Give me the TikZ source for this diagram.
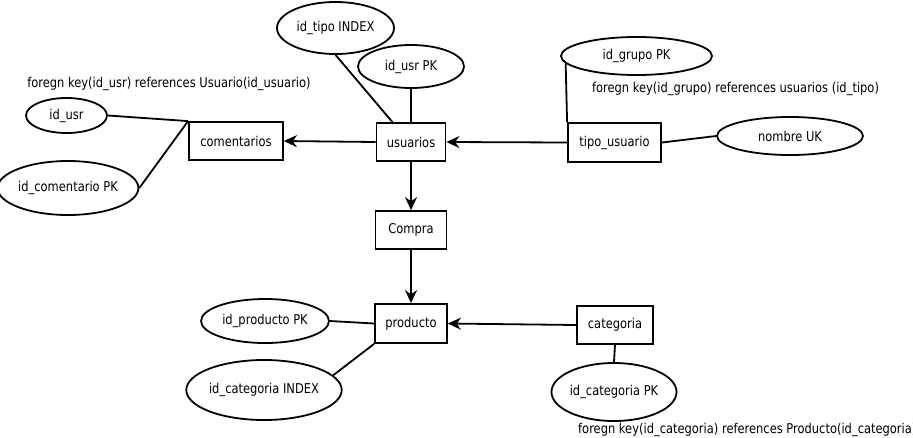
\documentclass[tikz,border=0pt]{standalone}
\usepackage{fontspec}
\setmainfont{DejaVu Sans}[FakeStretch=0.85]
\usetikzlibrary{arrows.meta,shapes.geometric}
\tikzset{
  tabla/.style={draw,line width=1.8pt,minimum height=38pt,inner sep=0pt,font=\fontsize{13.5}{15}\selectfont},
  atributo/.style={draw,ellipse,line width=1.8pt,inner sep=0pt,font=\fontsize{13.5}{15}\selectfont},
  nota/.style={font=\fontsize{13.5}{15}\selectfont,inner sep=0pt},
  liga/.style={line width=1.8pt},
  flecha/.style={line width=1.8pt,-{Stealth[length=13pt,width=12pt]}}
}

\begin{document}
\begin{tikzpicture}[x=1pt,y=-1pt]
      \useasboundingbox (0,0) rectangle (913,437);
      % tablas
      \node[tabla,minimum width=94pt] (comentarios) at (236,141) {comentarios};
      \node[tabla,minimum width=69pt] (usuarios) at (411,142) {usuarios};
      \node[tabla,minimum width=93pt,minimum height=39pt] (tipo) at (614.5,142.5) {tipo\_usuario};
      \node[tabla,minimum width=71pt] (compra) at (411,230) {Compra};
      \node[tabla,minimum width=72pt,minimum height=39pt] (producto) at (411,323.5) {producto};
      \node[tabla,minimum width=76pt] (categoria) at (615,325) {categoria};
      % atributos
      \node[atributo,minimum width=117pt,minimum height=52pt] (idtipo) at (335.5,28) {id\_tipo INDEX};
      \node[atributo,minimum width=106pt,minimum height=43pt] (idusrpk) at (411,66.5) {id\_usr PK};
      \node[atributo,minimum width=81pt,minimum height=35pt] (idusr) at (66.5,115.5) {id\_usr};
      \node[atributo,minimum width=132pt,minimum height=54pt] (idcoment) at (68,188) {id\_comentario PK};
      \node[atributo,minimum width=151pt,minimum height=38pt] (idgrupo) at (636.5,56) {id\_grupo PK};
      \node[atributo,minimum width=146pt,minimum height=38pt] (nombre) at (790,136) {nombre UK};
      \node[atributo,minimum width=128pt,minimum height=44pt] (idprod) at (265,321) {id\_producto PK};
      \node[atributo,minimum width=154pt,minimum height=60pt] (idcatidx) at (264,390) {id\_categoria INDEX};
      \node[atributo,minimum width=125pt,minimum height=58pt] (idcatpk) at (614,392) {id\_categoria PK};
      % notas
      \node[nota] (notausr) at (169,84) {foregn key(id\_usr) references Usuario(id\_usuario)};
      \node[nota] (notagrupo) at (735.5,89) {foregn key(id\_grupo) references usuarios (id\_tipo)};
      \node[nota,anchor=west] (notacat) at (578,430) {foregn key(id\_categoria) references Producto(id\_categoria)};
      % lineas
      \draw[liga] (idusr.east) -- (comentarios.north west);
      \draw[liga] (idcoment.east) -- (comentarios.north west);
      \draw[liga] (idtipo.south) -- (usuarios.133);
      \draw[liga] (idusrpk.south) -- (usuarios.north);
      \draw[liga] (idgrupo.186) -- (tipo.north west);
      \draw[liga] (tipo.east) -- (nombre.west);
      \draw[liga] (idprod.east) -- (producto.west);
      \draw[liga] (idcatidx.12) -- (producto.south west);
      \draw[liga] (categoria.south) -- (idcatpk.north);
      % flechas
      \draw[flecha] (usuarios.west) -- (comentarios.east);
      \draw[flecha] (tipo.west) -- (usuarios.east);
      \draw[flecha] (usuarios.south) -- (compra.north);
      \draw[flecha] (compra.south) -- (producto.north);
      \draw[flecha] (categoria.west) -- (producto.east);
    \end{tikzpicture}
\end{document}
